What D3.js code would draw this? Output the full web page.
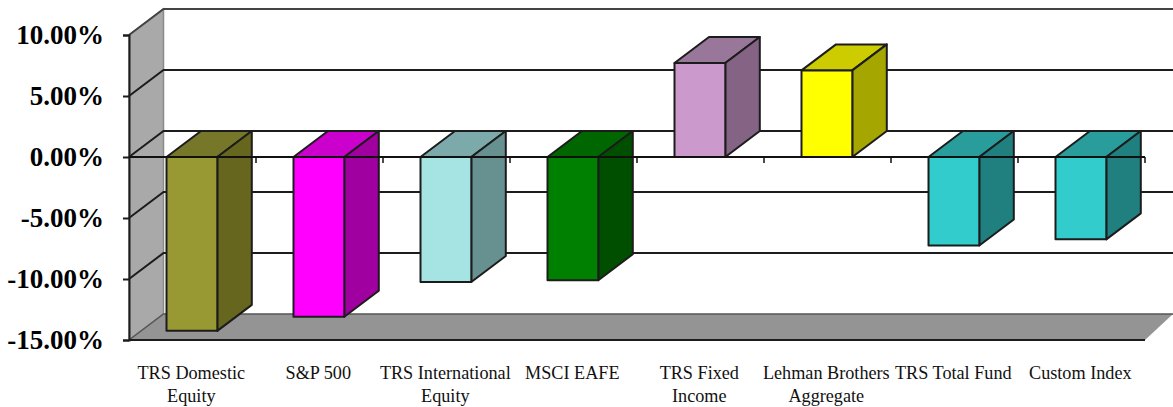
<!DOCTYPE html>
<html>
<head>
<meta charset="utf-8">
<script src="https://cdn.jsdelivr.net/npm/d3@7"></script>
<style>
  html, body { margin: 0; padding: 0; background: #fff; overflow: hidden; }
  svg { display: block; font-family: "Liberation Serif", serif; }
</style>
</head>
<body>
<div id="chart"></div>
<script>
const categories = [
  ["TRS Domestic", "Equity"], ["S&P 500"], ["TRS International", "Equity"], ["MSCI EAFE"],
  ["TRS Fixed", "Income"], ["Lehman Brothers", "Aggregate"], ["TRS Total Fund"], ["Custom Index"]
];
const returns = [-14.25, -13.1, -10.25, -10.1, 7.7, 7.1, -7.25, -6.75];
const frontColors = ["#999933", "#ff00ff", "#a6e3e3", "#008000", "#cc99cc", "#ffff00", "#33cccc", "#33cccc"];
const topColors   = ["#77772a", "#cc00cc", "#7caaaa", "#006600", "#99779a", "#cccc00", "#299c9c", "#299c9c"];
const sideColors  = ["#66661f", "#a000a0", "#679191", "#004f00", "#846384", "#a6a600", "#208080", "#208080"];
const yTicks = [10, 5, 0, -5, -10, -15];

const W = 1173, H = 407;
const depthX = 34.5, depthY = -26;
const ink = "#1c1c1c";

const svg = d3.select("#chart").append("svg").attr("width", W).attr("height", H);

const y = d3.scaleLinear().domain([-15, 10]).range([340, 35]);
const x = d3.scaleBand().domain(d3.range(categories.length)).range([129, 1145]);
const barW = x.bandwidth() * 0.4;
const barX = i => x(i) + x.bandwidth() * 0.3 - 0.6;
const path = pts => "M" + pts.map(p => p.join(",")).join("L") + "Z";

// Side wall and floor of the box
const x0 = x.range()[0], x1 = x.range()[1];
svg.append("path")
  .attr("d", path([[x0, y(-15)], [x0, y(10)], [x0 + depthX, y(10) + depthY], [x0 + depthX, y(-15) + depthY]]))
  .attr("fill", "#a9a9a9").attr("stroke", "#8a8a8a").attr("stroke-width", 1.5);
svg.append("path")
  .attr("d", path([[x0, y(-15)], [x0 + depthX, y(-15) + depthY], [W, y(-15) + depthY], [x1, y(-15)]]))
  .attr("fill", "#949494");

// Gridlines across the back wall, with their return along the side wall
const grid = svg.append("g").attr("fill", "none").attr("stroke", ink).attr("stroke-width", 2);
yTicks.forEach(t => {
  grid.append("polyline")
    .attr("points", [[x0, y(t)], [x0 + depthX, y(t) + depthY], [W, y(t) + depthY]].map(p => p.join(",")).join(" "))
    .attr("stroke-width", t === -15 ? 1.5 : 2)
    .attr("stroke", t === -15 ? "#555" : (t === 10 ? "#444" : ink));
});

// Front edge of the floor
svg.append("line").attr("x1", x0).attr("x2", x1).attr("y1", y(-15)).attr("y2", y(-15))
  .attr("stroke", ink).attr("stroke-width", 2);

// Value axis
const yAxis = svg.append("g").attr("transform", `translate(${x0},0)`)
  .call(d3.axisLeft(y).tickValues(yTicks).tickSize(6).tickPadding(19)
    .tickFormat(d => d.toFixed(2) + "%"));
yAxis.select(".domain").attr("stroke", ink).attr("stroke-width", 2);
yAxis.selectAll(".tick line").attr("stroke", ink).attr("stroke-width", 2);
yAxis.selectAll("text")
  .attr("font-family", '"Liberation Serif", serif')
  .attr("font-size", 27).attr("font-weight", "bold").attr("fill", "#000");

// Bars as three-faced prisms
const bars = svg.selectAll("g.bar").data(returns).join("g").attr("class", "bar")
  .attr("stroke", ink).attr("stroke-width", 2).attr("stroke-linejoin", "round");
bars.append("path").attr("fill", (d, i) => topColors[i]).attr("d", (d, i) => {
  const l = barX(i), r = l + barW, t = y(Math.max(d, 0));
  return path([[l, t], [l + depthX, t + depthY], [r + depthX, t + depthY], [r, t]]);
});
bars.append("path").attr("fill", (d, i) => sideColors[i]).attr("d", (d, i) => {
  const r = barX(i) + barW, t = y(Math.max(d, 0)), b = y(Math.min(d, 0));
  return path([[r, t], [r + depthX, t + depthY], [r + depthX, b + depthY], [r, b]]);
});
bars.append("path").attr("fill", (d, i) => frontColors[i]).attr("d", (d, i) => {
  const l = barX(i), r = l + barW, t = y(Math.max(d, 0)), b = y(Math.min(d, 0));
  return path([[l, t], [r, t], [r, b], [l, b]]);
});

// Zero baseline with category ticks at the band edges
svg.append("line").attr("x1", x0).attr("x2", x1).attr("y1", y(0)).attr("y2", y(0))
  .attr("stroke", "#111").attr("stroke-width", 2);
svg.append("g").selectAll("line").data(d3.range(1, categories.length + 1)).join("line")
  .attr("x1", i => x0 + i * x.step()).attr("x2", i => x0 + i * x.step())
  .attr("y1", y(0)).attr("y2", y(0) + 6)
  .attr("stroke", "#111").attr("stroke-width", 1.5);

// Category labels, on up to two lines
const labels = svg.append("g").attr("text-anchor", "middle")
  .attr("font-size", 18.2).attr("fill", "#111");
categories.forEach((lines, i) => {
  lines.forEach((s, k) => {
    labels.append("text")
      .attr("x", barX(i) + barW / 2 - 0.6)
      .attr("y", 379 + k * 22.5)
      .text(s);
  });
});
</script>
</body>
</html>
